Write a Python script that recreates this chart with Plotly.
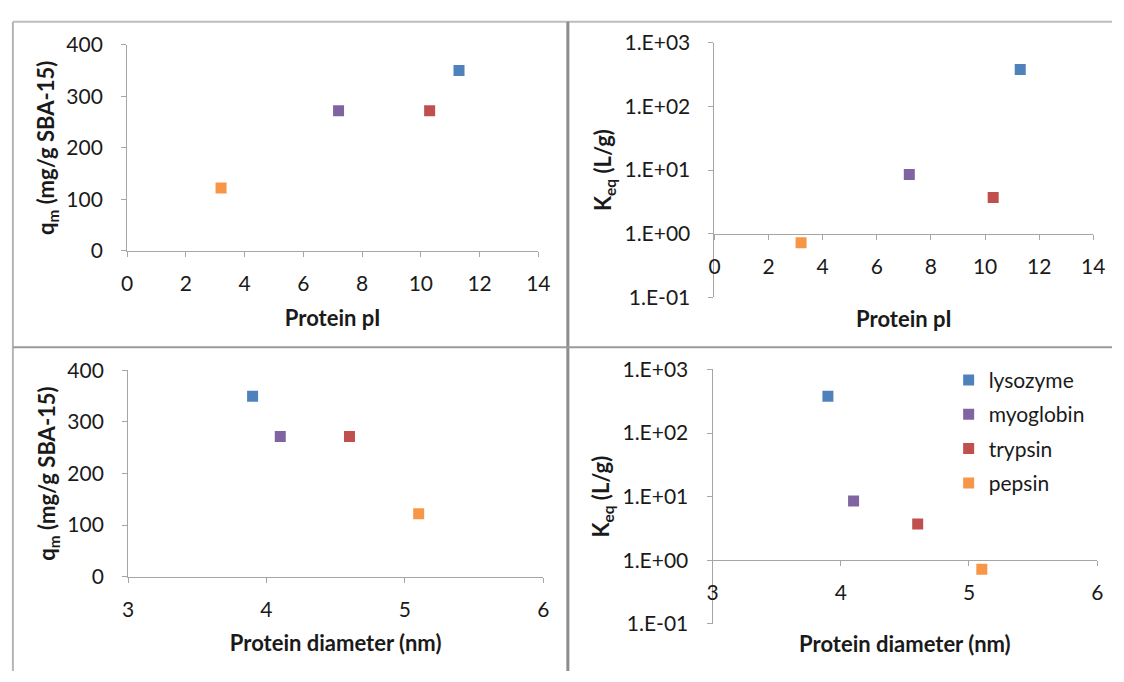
import plotly.graph_objects as go

# ---- data ----
proteins = ["lysozyme", "myoglobin", "trypsin", "pepsin"]
protein_pI = [11.3, 7.2, 10.3, 3.2]
protein_diameter = [3.9, 4.1, 4.6, 5.1]
qm_values = [350, 272, 272, 122]
keq_values = [380, 8.5, 3.7, 0.72]
colors = ["#4F81BD", "#8064A2", "#C0504D", "#F79646"]

log_tickvals = [0.1, 1, 10, 100, 1000]
log_ticktext = ["1.E-01", "1.E+00", "1.E+01", "1.E+02", "1.E+03"]

qm_title = "q<sub>m</sub> (mg/g SBA-15)"
keq_title = "K<sub>eq</sub> (L/g)"
pi_title = "Protein pI"
diam_title = "Protein diameter (nm)"

W, H = 1124, 682
FONT = "Lato"
AXC = "#a6a6a6"
TITLE_FONT = dict(family=FONT, size=22, color="#1a1a1a", weight="bold")


def xdom(x0, x1):
    return [x0 / W, x1 / W]


def ydom(top, bottom):
    return [1 - bottom / H, 1 - top / H]


# panel plot areas (pixels)
P = {
    "tl": dict(x=(123, 541), y=(32, 246)),
    "tr": dict(x=(720, 1105), y=(30, 294)),
    "bl": dict(x=(124, 546), y=(370, 584)),
    "br": dict(x=(718, 1109), y=(369, 633)),
}

fig = go.Figure()

panels = [
    ("x", "y", protein_pI, qm_values, False),
    ("x2", "y2", protein_pI, keq_values, False),
    ("x3", "y3", protein_diameter, qm_values, False),
    ("x4", "y4", protein_diameter, keq_values, True),
]

for xa, ya, xs, ys, show in panels:
    for i, name in enumerate(proteins):
        fig.add_trace(go.Scatter(
            x=[xs[i]], y=[ys[i]], mode="markers", name=name, legendgroup=name,
            marker=dict(symbol="square", size=11, color=colors[i]),
            xaxis=xa, yaxis=ya, showlegend=show,
        ))

common = dict(showgrid=False, zeroline=False, showline=True, linecolor=AXC,
              linewidth=1, ticks="outside", ticklen=5, tickcolor=AXC,
              tickfont=dict(family=FONT, size=21, color="#1a1a1a"))


def x_axis(key, rng, dtick, anchor, title, standoff, position=None):
    d = dict(common, domain=xdom(*P[key]["x"]), range=rng, dtick=dtick,
             tick0=rng[0], ticklabelstandoff=9,
             title=dict(text=title, font=TITLE_FONT, standoff=standoff))
    if position is None:
        d["anchor"] = anchor
    else:
        d["anchor"] = "free"
        d["position"] = position
    return d


def y_lin(key, anchor, title, standoff):
    return dict(common, domain=ydom(*P[key]["y"]), range=[0, 400], dtick=100,
                anchor=anchor, ticklabelstandoff=14,
                title=dict(text=title, font=TITLE_FONT, standoff=standoff))


def y_log(key, anchor, title, standoff):
    return dict(common, domain=ydom(*P[key]["y"]), type="log", range=[-1, 3],
                tickvals=log_tickvals, ticktext=log_ticktext, anchor=anchor,
                ticklabelstandoff=14,
                title=dict(text=title, font=TITLE_FONT, standoff=standoff))


def cross_pos(key):
    top, bottom = P[key]["y"]
    y1 = bottom - 0.25 * (bottom - top)
    return 1 - y1 / H


fig.update_layout(
    width=W, height=H, margin=dict(l=0, r=0, t=0, b=0),
    paper_bgcolor="white", plot_bgcolor="white",
    font=dict(family=FONT, size=21, color="#1a1a1a"),
    xaxis=x_axis("tl", [0, 14], 2, "y", pi_title, 16),
    yaxis=y_lin("tl", "x", qm_title, 5),
    xaxis2=x_axis("tr", [0, 14], 2, "y2", pi_title, 34, position=cross_pos("tr")),
    yaxis2=y_log("tr", "x2", keq_title, 6),
    xaxis3=x_axis("bl", [3, 6], 1, "y3", diam_title, 15),
    yaxis3=y_lin("bl", "x3", qm_title, 5),
    xaxis4=x_axis("br", [3, 6], 1, "y4", diam_title, 33, position=cross_pos("br")),
    yaxis4=y_log("br", "x4", keq_title, 6),
    legend=dict(x=958 / W, y=1 - 359 / H, xanchor="left", yanchor="top",
                bgcolor="rgba(0,0,0,0)", font=dict(family=FONT, size=21, color="#1a1a1a"),
                traceorder="grouped", tracegroupgap=4),
)

# panel borders
def line(x0, y0, x1, y1, color, width):
    fig.add_shape(type="line", xref="paper", yref="paper",
                  x0=x0 / W, y0=1 - y0 / H, x1=x1 / W, y1=1 - y1 / H,
                  line=dict(color=color, width=width))

line(7, 8, 1124, 8, "#bdbdbd", 2)
line(7, 8, 7, 682, "#b5b5b5", 2)
line(571, 8, 571, 682, "#8c8c8c", 3)
line(7, 346, 1124, 346, "#9a9a9a", 2)

fig.write_html("out.html", config={"displayModeBar": False},
               post_script="document.body.style.margin='0';document.body.style.overflow='hidden';")
